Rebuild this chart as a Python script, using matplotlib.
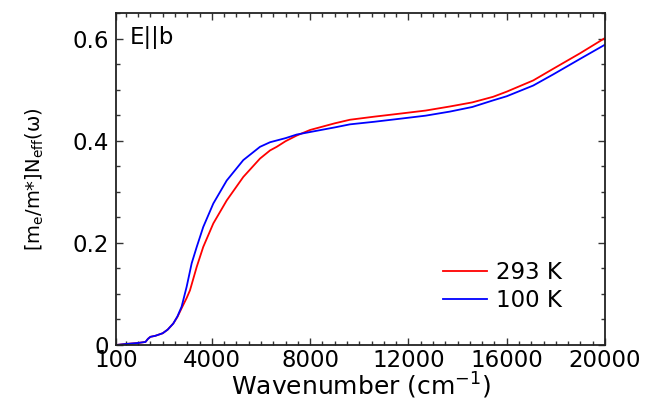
import matplotlib
matplotlib.use("Agg")
import matplotlib.pyplot as plt
from matplotlib.ticker import MultipleLocator, FixedLocator

plt.rcParams['font.family'] = ['DejaVu Sans']
plt.rcParams['mathtext.fontset'] = 'dejavusans'

# Effective carrier number, E || b
wn_293 = [100, 500, 1000, 1300, 1400, 1500, 1700, 2000, 2200, 2430, 2600, 2770,
          2975, 3110, 3385, 3650, 4060, 4605, 5280, 5960, 6370, 6640, 7000, 7450,
          8000, 9000, 9620, 10600, 11660, 12700, 13690, 14600, 15450, 16000,
          17080, 17900, 18980, 20000]
neff_293 = [0.0, 0.002, 0.004, 0.006, 0.012, 0.016, 0.018, 0.023, 0.030, 0.042,
            0.055, 0.072, 0.092, 0.107, 0.153, 0.192, 0.238, 0.283, 0.329, 0.365,
            0.381, 0.388, 0.399, 0.410, 0.421, 0.434, 0.441, 0.447, 0.453, 0.459,
            0.467, 0.475, 0.486, 0.496, 0.518, 0.541, 0.571, 0.601]

wn_100 = [100, 500, 1000, 1300, 1400, 1500, 1700, 2000, 2200, 2430, 2600, 2770,
          2975, 3180, 3385, 3650, 4060, 4605, 5280, 5960, 6370, 7000, 7450, 8000,
          9000, 9620, 10600, 11660, 12700, 13690, 14600, 15450, 16000, 17080,
          17900, 18980, 20000]
neff_100 = [0.0, 0.002, 0.004, 0.006, 0.012, 0.016, 0.018, 0.023, 0.030, 0.042,
            0.056, 0.075, 0.114, 0.160, 0.192, 0.231, 0.277, 0.322, 0.362, 0.388,
            0.397, 0.405, 0.412, 0.417, 0.426, 0.432, 0.437, 0.443, 0.449, 0.457,
            0.466, 0.479, 0.487, 0.508, 0.530, 0.560, 0.588]

x_ticks = [100, 4000, 8000, 12000, 16000, 20000]
x_tick_labels = ['100', '4000', '8000', '12000', '16000', '20000']
y_ticks = [0, 0.2, 0.4, 0.6]
y_tick_labels = ['0', '0.2', '0.4', '0.6']

fig = plt.figure(figsize=(6.45, 4.03), dpi=100)
ax = fig.add_axes([116 / 645, 1 - 345 / 403, 489 / 645, 332 / 403])

ax.plot(wn_293, neff_293, color='#ff0000', lw=1.3, label='293 K')
ax.plot(wn_100, neff_100, color='#0000ff', lw=1.3, label='100 K')

ax.set_xlim(100, 20000)
ax.set_ylim(0, 0.65)
ax.xaxis.set_major_locator(FixedLocator(x_ticks))
ax.set_xticklabels(x_tick_labels)
ax.xaxis.set_minor_locator(FixedLocator([v for v in range(500, 20000, 500) if v % 4000]))
ax.set_yticks(y_ticks)
ax.set_yticklabels(y_tick_labels)
ax.yaxis.set_minor_locator(MultipleLocator(0.05))

ax.tick_params(which='both', direction='in', top=True, right=True, labelsize=16.5,
               color='#333333', width=1.0)
ax.tick_params(which='major', length=5, pad=3)
ax.tick_params(which='minor', length=3)
ax.tick_params(axis='y', which='major', pad=5)
for s in ax.spines.values():
    s.set_linewidth(1.3)
    s.set_color('#222222')

ax.set_xlabel(r'Wavenumber (cm$^\mathregular{-1}$)', fontsize=18, labelpad=-1)
ax.set_ylabel(r'[m$_\mathregular{e}$/m*]N$_\mathregular{eff}$(ω)', fontsize=14, labelpad=19)

ax.text(0.028, 0.962, 'E||b', transform=ax.transAxes, fontsize=16.5, ha='left', va='top')

leg = ax.legend(loc='lower right', bbox_to_anchor=(0.935, 0.066), frameon=False,
                fontsize=16.5, handlelength=1.9, handletextpad=0.4, labelspacing=0.2,
                borderpad=0)

fig.savefig('out.png', dpi=100)
